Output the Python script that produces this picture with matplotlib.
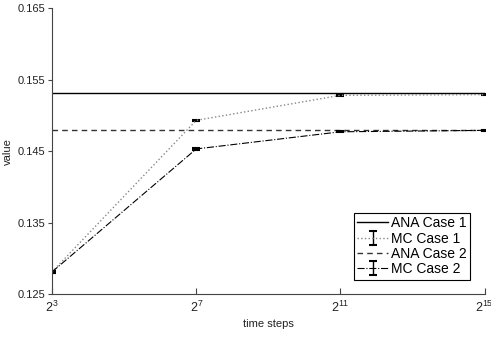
import numpy as np
import matplotlib.pyplot as plt

plt.rcParams['font.family'] = ['Liberation Sans', 'DejaVu Sans']
plt.rcParams['mathtext.fontset'] = 'custom'
plt.rcParams['mathtext.rm'] = 'Liberation Sans'
plt.rcParams['mathtext.it'] = 'Liberation Sans:italic'

# time steps (powers of two)
steps = [2**3, 2**7, 2**11, 2**15]
ana_case1 = 0.1531
ana_case2 = 0.1479
mc_case1 = [0.1281, 0.1493, 0.1528, 0.1529]
mc_case2 = [0.1281, 0.1453, 0.1477, 0.1479]
mc_err1 = [0.0001, 0.0001, 0.0001, 0.0001]
mc_err2 = [0.0001, 0.0001, 0.0001, 0.0001]
yticks = [0.125, 0.135, 0.145, 0.155, 0.165]


def main():
    fig = plt.figure(figsize=(4.91, 3.38), dpi=100)
    ax = fig.add_axes([0.106, 0.130, 0.881, 0.846])

    h1, = ax.plot([steps[0], steps[-1]], [ana_case1, ana_case1], color="black",
                  linestyle="-", linewidth=1.0, label="ANA Case 1")
    h2 = ax.errorbar(steps, mc_case1, yerr=mc_err1, color="#888888", ecolor="black",
                     linestyle=":", linewidth=1.0, capsize=3, capthick=1.5,
                     elinewidth=1.0, label="MC Case 1")
    h3, = ax.plot([steps[0], steps[-1]], [ana_case2, ana_case2], color="#333333",
                  linestyle=(0, (4, 3)), linewidth=1.0, label="ANA Case 2")
    h4 = ax.errorbar(steps, mc_case2, yerr=mc_err2, color="black", ecolor="black",
                     linestyle="-.", linewidth=0.8, capsize=3, capthick=1.5,
                     elinewidth=1.0, label="MC Case 2")

    ax.set_xscale("log", base=2)
    ax.set_xlim(steps[0], steps[-1])
    ax.set_ylim(0.125, 0.165)
    ax.set_xticks(steps)
    ax.set_xticklabels([r"$2^{%d}$" % int(np.log2(s)) for s in steps])
    ax.minorticks_off()
    ax.set_yticks(yticks)
    ax.set_yticklabels(["%.3f" % t for t in yticks])

    ax.spines["top"].set_visible(False)
    ax.spines["right"].set_visible(False)
    for s in ["left", "bottom"]:
        ax.spines[s].set_color("#444444")
    ax.tick_params(axis="y", direction="out", length=3, pad=2, colors="#444444",
                   labelcolor="#222222", labelsize=8)
    ax.tick_params(axis="x", direction="in", length=4, pad=4, colors="#444444",
                   labelcolor="#222222", labelsize=9)

    ax.set_xlabel("time steps", fontsize=8, color="#222222", labelpad=3)
    ax.set_ylabel("value", fontsize=8, color="#222222", labelpad=3)

    leg = ax.legend([h1, h2, h3, h4], ["ANA Case 1", "MC Case 1", "ANA Case 2", "MC Case 2"],
                    loc="lower right", bbox_to_anchor=(0.966, 0.05), fontsize=10,
                    fancybox=False, edgecolor="black", framealpha=1,
                    handlelength=2.2, handletextpad=0.2, borderpad=0.25,
                    borderaxespad=0, labelspacing=0.1)
    leg.get_frame().set_linewidth(0.8)

    fig.savefig("out.png", dpi=100)


if __name__ == "__main__":
    main()
